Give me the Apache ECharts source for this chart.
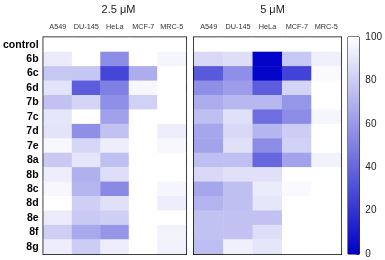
<!DOCTYPE html>
<html>
<head>
<meta charset="utf-8">
<script src="https://cdn.jsdelivr.net/npm/echarts@6/dist/echarts.min.js"></script>
<style>html,body{margin:0;padding:0;background:#fff}#c{width:385px;height:260px}</style>
</head>
<body>
<div id="c"></div>
<script>
var compounds = ['control','6b','6c','6d','7b','7c','7d','7e','8a','8b','8c','8d','8e','8f','8g'];
var cellLines = ['A549','DU-145','HeLa','MCF-7','MRC-5'];
var panelTitles = ['2.5 \u03bcM','5 \u03bcM'];
var barTicks = [0,20,40,60,80,100];
// viability (%) per compound row, columns = cellLines
var vals25 = [
  [100,100,100,100,100],
  [92,100,55,100,96],
  [78,78,27,68,100],
  [89,36,50,97,100],
  [76,83,56,82,100],
  [90,100,63,100,100],
  [89,56,76,100,93],
  [97,84,93,100,97],
  [79,90,75,100,100],
  [93,69,87,100,100],
  [97,71,54,100,96],
  [100,81,88,100,93],
  [92,79,81,100,100],
  [81,66,59,100,95],
  [93,80,93,100,95]
];
var vals5 = [
  [100,100,100,100,100],
  [85,87,1,78,94],
  [35,56,2,26,98],
  [56,61,36,83,100],
  [68,72,72,59,100],
  [75,88,43,55,96],
  [65,85,71,80,100],
  [64,88,55,82,100],
  [75,75,40,64,95],
  [85,88,88,100,100],
  [65,75,92,98,100],
  [70,75,90,100,100],
  [76,76,76,100,100],
  [76,76,87,100,100],
  [74,94,90,100,100]
];

function toCells(m){
  var out=[];
  for(var r=0;r<m.length;r++) for(var c=0;c<m[r].length;c++) out.push([c,r,m[r][c]]);
  return out;
}
var blue='#0000c8';
var chart = echarts.init(document.getElementById('c'), null, {renderer:'canvas'});
var font='Liberation Sans, Arial, sans-serif';
var gridBase={show:true,borderColor:'#000',borderWidth:2,backgroundColor:'transparent',top:37.5,height:216.5};
var colLabel={fontSize:7.3,color:'#333',margin:7,interval:0};
chart.setOption({
  animation:false,
  textStyle:{fontFamily:font},
  title:[
    {text:panelTitles[0],left:113.5,top:-1,textAlign:'center',textStyle:{fontSize:11,fontWeight:'normal',color:'#222',fontFamily:font}},
    {text:panelTitles[1],left:267.5,top:-1,textAlign:'center',textStyle:{fontSize:11,fontWeight:'normal',color:'#222',fontFamily:font}}
  ],
  grid:[
    Object.assign({left:41,width:145},gridBase),
    Object.assign({left:194,width:147},gridBase),
    {show:true,borderColor:'#000',borderWidth:1,left:348,width:12,top:37,height:217}
  ],
  xAxis:[
    {type:'category',gridIndex:0,data:cellLines,position:'top',axisLine:{show:false},axisTick:{show:false},axisLabel:colLabel},
    {type:'category',gridIndex:1,data:cellLines,position:'top',axisLine:{show:false},axisTick:{show:false},axisLabel:colLabel},
    {type:'category',gridIndex:2,data:[''],axisLine:{show:false},axisTick:{show:false},axisLabel:{show:false}}
  ],
  yAxis:[
    {type:'category',gridIndex:0,data:compounds,inverse:true,axisLine:{show:false},axisTick:{show:false},axisLabel:{fontSize:10.5,fontWeight:'bold',color:'#000',margin:5,interval:0}},
    {type:'category',gridIndex:1,data:compounds,inverse:true,axisLine:{show:false},axisTick:{show:false},axisLabel:{show:false}},
    {type:'value',gridIndex:2,min:0,max:100,interval:20,position:'right',splitLine:{show:false},axisLine:{show:false},
     axisTick:{show:true,inside:true,length:3,lineStyle:{color:'#333'}},axisLabel:{fontSize:10,color:'#222',margin:6,
     formatter:function(v){return barTicks.indexOf(v)>=0?String(v):'';}}}
  ],
  visualMap:{show:false,min:0,max:100,seriesIndex:[0,1],inRange:{color:[blue,'#ffffff']}},
  series:[
    {type:'heatmap',xAxisIndex:0,yAxisIndex:0,data:toCells(vals25)},
    {type:'heatmap',xAxisIndex:1,yAxisIndex:1,data:toCells(vals5)},
    {type:'bar',xAxisIndex:2,yAxisIndex:2,data:[barTicks[barTicks.length-1]],barWidth:'100%',
     itemStyle:{color:new echarts.graphic.LinearGradient(0,0,0,1,[{offset:0,color:'#ffffff'},{offset:1,color:blue}])}}
  ]
});
</script>
</body>
</html>
